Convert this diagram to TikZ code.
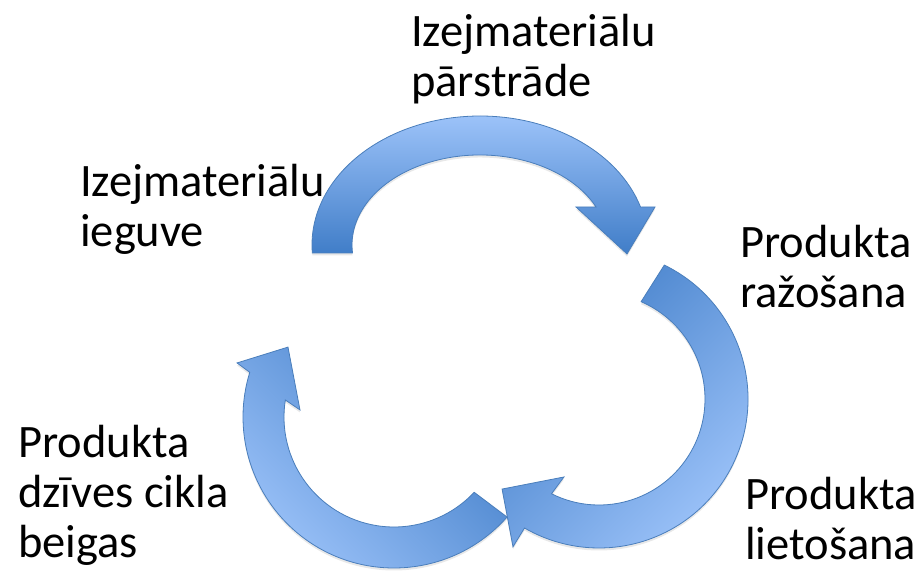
\documentclass[tikz,border=0pt]{standalone}
\usepackage{fontspec}
\setmainfont{Carlito}
\usetikzlibrary{shadows}
\definecolor{arrdark}{RGB}{64,125,200}
\definecolor{arrlight}{RGB}{158,196,250}
\definecolor{arredge}{RGB}{74,126,187}
\begin{document}
\begin{tikzpicture}[x=1pt,y=1pt,
  blockarrow/.style={draw=arredge, line width=0.8pt, shading=axis, top color=arrlight, bottom color=arrdark,
    drop shadow={opacity=0.18, shadow xshift=0pt, shadow yshift=-2.5pt}},
  lbl/.style={inner sep=0pt, anchor=base west, align=left, font=\fontsize{46.5}{50}\selectfont}]
\useasboundingbox (0,0) rectangle (923,572);
% arrow 1 (top)
\path[blockarrow] ([shift={(480,327)}]183.55:168 and 129)
  arc[start angle=183.55, end angle=17.13, x radius=168, y radius=129]
  -- (655,365) -- (627,318) -- (576,365) -- (596.03,365)
  arc[start angle=24.98, end angle=185.1, x radius=128, y radius=90] -- cycle;
% arrow 2 (right)
\path[blockarrow, shading angle=-135] ([shift={(599,173)}]64:149)
  arc[start angle=64, end angle=-120, radius=149]
  -- ([shift={(599,173)}]-120.2:171) -- ([shift={(599,173)}]-137.1:132.3)
  -- ([shift={(599,173)}]-114.2:85.5) -- ([shift={(599,173)}]-116.6:106)
  arc[start angle=-116.6, end angle=66.6, radius=106] -- cycle;
% arrow 3 (bottom left)
\path[blockarrow, shading angle=135] ([shift={(394,155)}]-41.5:151)
  arc[start angle=-41.5, end angle=-197.2, radius=151]
  -- ([shift={(394,155)}]161:166) -- ([shift={(394,155)}]146.6:127)
  -- ([shift={(394,155)}]175.7:94.3) -- ([shift={(394,155)}]171.1:110)
  arc[start angle=-188.9, end angle=-43.2, radius=110] -- cycle;
% labels (anchor = baseline of the last line)
\node[lbl] (t1) at (411,475) {Izejmateriālu\\pārstrāde};
\node[lbl] (t2) at (80,325) {Izejmateriālu\\ieguve};
\node[lbl] (t3) at (740,264) {Produkta\\ražošana};
\node[lbl] (t4) at (18,14) {Produkta\\dzīves cikla\\beigas};
\node[lbl] (t5) at (745,12) {Produkta\\lietošana};
\end{tikzpicture}
\end{document}
